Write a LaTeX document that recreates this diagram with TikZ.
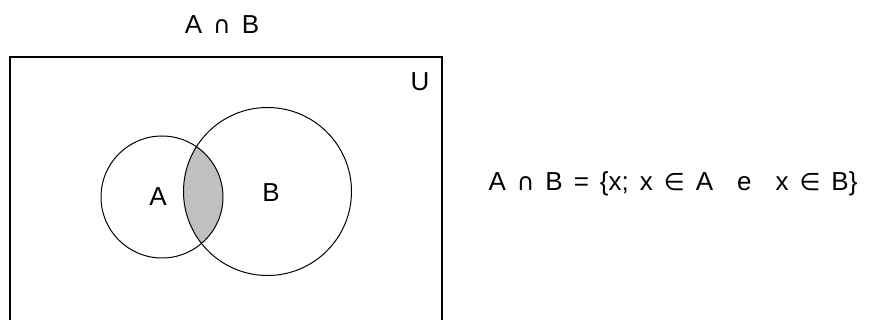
\documentclass[tikz,border=0pt]{standalone}
\usepackage{fontspec}
\setmainfont{Liberation Sans}
\newfontfamily\symfont{DejaVu Sans}
\definecolor{lensgray}{RGB}{192,192,192}
\newcommand{\capsym}{{\symfont\fontsize{24}{24}\selectfont ∩}}
\newcommand{\insym}{{\symfont\fontsize{24}{24}\selectfont ∈}}
\newcommand{\wide}{\spaceskip=11pt plus 1pt}
\begin{document}
\begin{tikzpicture}[x=1pt, y=-1pt, line width=1pt,
    font=\fontsize{26}{28}\selectfont\wide,
    setlabel/.style={inner sep=0pt}]
  \useasboundingbox (0,0) rectangle (870,320);
  % the universe, cut off by the lower edge
  \begin{scope}
    \clip (0,0) rectangle (870,320);
    \draw[line width=1.6pt] (10,57) rectangle (442,340);
    % the shaded lens A and B share
    \begin{scope}
      \clip (162,197) circle (61);
      \fill[lensgray] (267.5,191.5) circle (84);
    \end{scope}
    \draw (162,197) circle (61);
    \draw (267.5,191.5) circle (84);
  \end{scope}
  \node[setlabel] (ttl) at (222,25) {A \capsym\ B};
  \node[setlabel] (lblU) at (420,82) {U};
  \node[setlabel] (lblA) at (158,197) {A};
  \node[setlabel] (lblB) at (271,193) {B};
  \node[setlabel, anchor=west] (def) at (488,184)
    {A \capsym\ B = \{x; x \insym\ A\hspace{24pt}e\hspace{24pt}x \insym\ B\}};
\end{tikzpicture}
\end{document}
